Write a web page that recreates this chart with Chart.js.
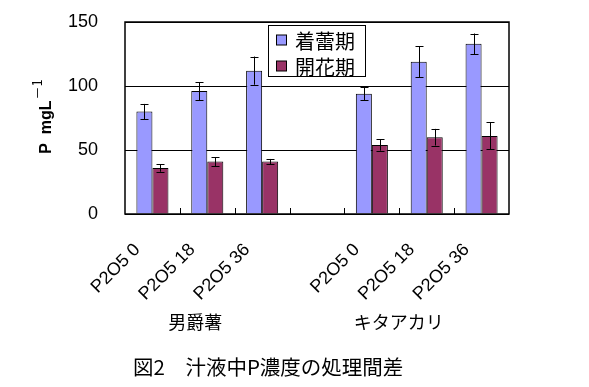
<!DOCTYPE html>
<html>
<head>
<meta charset="utf-8">
<script src="https://cdn.jsdelivr.net/npm/chart.js@4/dist/chart.umd.min.js"></script>
<style>
  html, body { margin: 0; padding: 0; background: #fff; }
  #wrap { width: 589px; height: 387px; position: relative; }
</style>
</head>
<body>
<div id="wrap"><canvas id="chart" width="589" height="387"></canvas></div>
<script>
// data
const categories = ['P2O5 0', 'P2O5 18', 'P2O5 36', '', 'P2O5 0', 'P2O5 18', 'P2O5 36'];
const groupLabels = ['男爵薯', 'キタアカリ'];
const seriesNames = ['着蕾期', '開花期'];
const budValues = [80, 96, 112, null, 94, 119, 133];
const budErr = [6, 7, 11, null, 5, 12, 8];
const flowerValues = [36, 41, 41, null, 54, 60, 61];
const flowerErr = [3, 3.5, 2, null, 4.5, 6.5, 10.5];
const yTicks = [0, 50, 100, 150];

const colors = ['#9999ff', '#993366'];
const errors = [budErr, flowerErr];
const jpFont = '"Noto Sans CJK JP", sans-serif';
const latinFont = '"Liberation Sans", Arial, sans-serif';

const decorPlugin = {
    id: 'decor',
    afterDatasetsDraw(chart) {
        const ctx = chart.ctx;
        const area = chart.chartArea;
        const x = chart.scales.x;
        const y = chart.scales.y;
        ctx.save();

        // error bars
        ctx.strokeStyle = '#000';
        ctx.lineWidth = 1;
        chart.data.datasets.forEach((ds, di) => {
            const meta = chart.getDatasetMeta(di);
            meta.data.forEach((bar, i) => {
                const v = ds.data[i];
                const e = errors[di][i];
                if (v == null || e == null) return;
                const cx = Math.round(bar.x) + 0.5;
                const top = y.getPixelForValue(v + e);
                const bot = y.getPixelForValue(v - e);
                ctx.beginPath();
                ctx.moveTo(cx, top); ctx.lineTo(cx, bot);
                ctx.moveTo(cx - 4, Math.round(top) + 0.5); ctx.lineTo(cx + 4, Math.round(top) + 0.5);
                ctx.moveTo(cx - 4, Math.round(bot) + 0.5); ctx.lineTo(cx + 4, Math.round(bot) + 0.5);
                ctx.stroke();
            });
        });

        // plot frame
        ctx.lineWidth = 1.5;
        ctx.strokeRect(area.left, area.top, area.right - area.left, area.bottom - area.top);

        // inward category ticks
        ctx.lineWidth = 1;
        for (let i = 0; i < categories.length - 1; i++) {
            const bx = Math.round((x.getPixelForValue(i) + x.getPixelForValue(i + 1)) / 2) + 0.5;
            ctx.beginPath();
            ctx.moveTo(bx, area.bottom);
            ctx.lineTo(bx, area.bottom - 6);
            ctx.stroke();
        }

        // rotated category labels
        ctx.fillStyle = '#000';
        ctx.font = '18px ' + latinFont;
        ctx.textAlign = 'right';
        ctx.textBaseline = 'middle';
        categories.forEach((c, i) => {
            if (!c) return;
            const px = x.getPixelForValue(i);
            ctx.save();
            ctx.translate(px - 15, area.bottom + 33);
            ctx.rotate(-Math.PI / 4);
            ctx.fillText(c, 0, 0);
            ctx.restore();
        });

        // variety labels
        ctx.font = '18px ' + jpFont;
        ctx.textAlign = 'center';
        ctx.fillText(groupLabels[0], x.getPixelForValue(1) - 12, area.bottom + 108);
        ctx.fillText(groupLabels[1], x.getPixelForValue(5) - 28, area.bottom + 108);

        // y axis title
        ctx.save();
        ctx.translate(47, 117);
        ctx.rotate(-Math.PI / 2);
        ctx.textAlign = 'left';
        ctx.textBaseline = 'middle';
        ctx.font = 'bold 16px ' + latinFont;
        const main = 'P  mgL';
        const w = ctx.measureText(main).width;
        const sup = '－1';
        ctx.font = '13px ' + jpFont;
        const sw = ctx.measureText(sup).width;
        const start = -(w + sw) / 2;
        ctx.font = 'bold 16px ' + latinFont;
        ctx.fillText(main, start, 0);
        ctx.font = '13px ' + jpFont;
        ctx.fillText(sup, start + w + 1, -10);
        ctx.restore();

        // legend
        const lx = 268, ly = 25, lw = 97, lh = 51;
        ctx.fillStyle = '#fff';
        ctx.fillRect(lx, ly, lw, lh);
        ctx.strokeStyle = '#000';
        ctx.lineWidth = 1;
        ctx.strokeRect(lx + 0.5, ly + 0.5, lw, lh);
        seriesNames.forEach((name, i) => {
            const rowY = ly + 15 + i * 26;
            ctx.fillStyle = colors[i];
            ctx.fillRect(276.5, rowY - 5, 10, 10);
            ctx.strokeRect(276.5, rowY - 5, 10, 10);
            ctx.fillStyle = '#000';
            ctx.font = '20px ' + jpFont;
            ctx.textAlign = 'left';
            ctx.textBaseline = 'middle';
            ctx.fillText(name, 295, rowY + 1);
        });

        // caption
        ctx.fillStyle = '#000';
        ctx.font = '20.5px ' + jpFont;
        ctx.textAlign = 'left';
        ctx.textBaseline = 'middle';
        ctx.fillText('図2　汁液中P濃度の処理間差', 133, 367);

        ctx.restore();
    }
};

new Chart(document.getElementById('chart'), {
    type: 'bar',
    data: {
        labels: categories,
        datasets: [
            { label: seriesNames[0], data: budValues, backgroundColor: colors[0], borderColor: '#000', borderWidth: 1 },
            { label: seriesNames[1], data: flowerValues, backgroundColor: colors[1], borderColor: '#000', borderWidth: 1 }
        ]
    },
    options: {
        responsive: false,
        animation: false,
        devicePixelRatio: 1,
        layout: { padding: { left: 0, right: 80, top: 22, bottom: 0 } },
        plugins: { legend: { display: false }, tooltip: { enabled: false } },
        datasets: { bar: { categoryPercentage: 0.584, barPercentage: 1 } },
        scales: {
            x: {
                grid: { display: false },
                border: { display: false },
                ticks: { display: false },
                afterFit(scale) { scale.height = 173; }
            },
            y: {
                min: 0,
                max: 150,
                afterBuildTicks(scale) { scale.ticks = yTicks.map(v => ({ value: v })); },
                grid: { color: '#000', lineWidth: 1, drawTicks: false },
                border: { display: false },
                ticks: {
                    padding: 27,
                    color: '#000',
                    font: { family: 'Liberation Sans', size: 18 }
                },
                afterFit(scale) {
                    scale.width = 125;
                    scale.paddingTop = 0;
                    scale.paddingBottom = 0;
                }
            }
        }
    },
    plugins: [decorPlugin]
});
</script>
</body>
</html>
